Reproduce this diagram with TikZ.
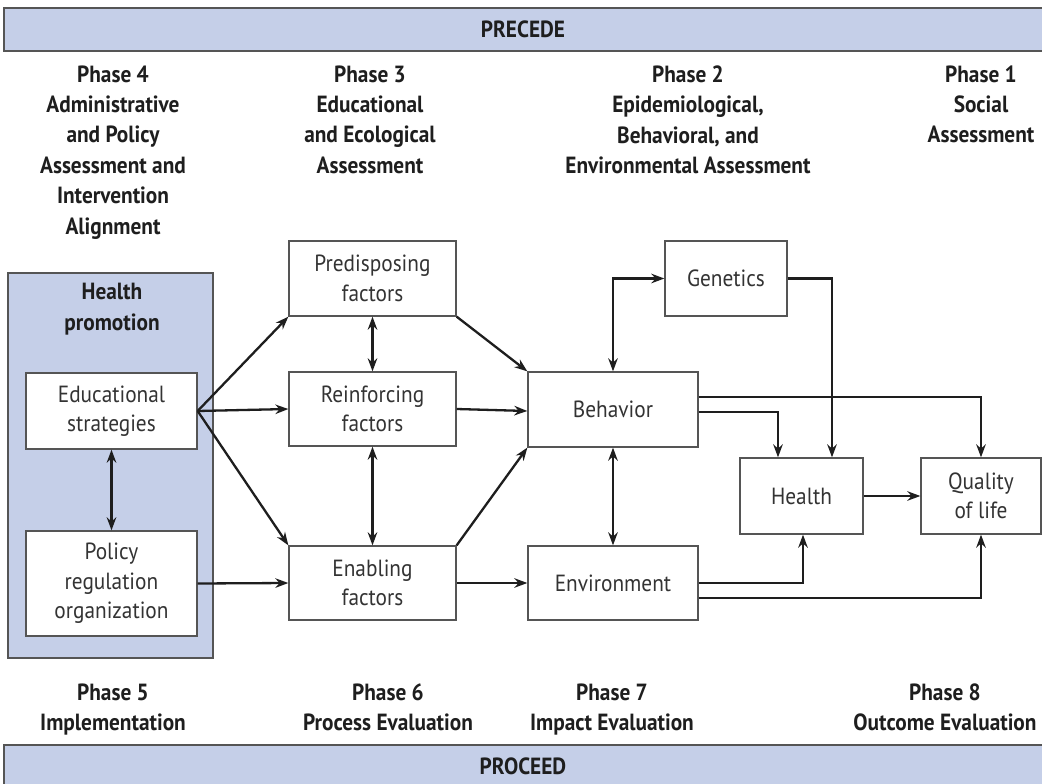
\documentclass[tikz,border=0pt]{standalone}
\usepackage{fontspec}
\setmainfont{PT Sans}[FakeStretch=0.91]
\usetikzlibrary{arrows.meta}

\definecolor{bandblue}{HTML}{C5CFE8}
\definecolor{ink}{HTML}{1E1E1E}
\definecolor{boxline}{HTML}{555555}
\definecolor{boxtext}{HTML}{333333}

\begin{document}
\begin{tikzpicture}[x=1bp,y=-1bp,
  factor/.style={draw=boxline, line width=1.3bp, fill=white, inner sep=0pt,
    align=center, text=boxtext, font=\fontsize{23.5}{29.5}\selectfont},
  head/.style={align=center, text=ink, font=\bfseries\fontsize{23.5}{30.5}\selectfont},
  phase/.style={head, anchor=north},
  band/.style={draw=boxline, line width=1.3bp, fill=bandblue},
  arr/.style={-{Stealth[length=13bp,width=9.5bp]}, line width=2.3bp, draw=ink},
  darr/.style={{Stealth[length=13bp,width=9.5bp]}-{Stealth[length=13bp,width=9.5bp]}, line width=2.3bp, draw=ink}]

\useasboundingbox (0,0) rectangle (1042,784);
\fill[white] (0,0) rectangle (1042,784);

% PRECEDE / PROCEED bands
\draw[band] (4,8) rectangle (1050,51);
\node[head] (precede) at (523,29.5) {PRECEDE};
\draw[band] (4,745) rectangle (1050,795);
\node[head] (proceed) at (523,766) {PROCEED};

% phase headings (PRECEDE side)
\node[phase] (ph4) at (113,62) {Phase 4\\Administrative\\and Policy\\Assessment and\\Intervention\\Alignment};
\node[phase] (ph3) at (370,62) {Phase 3\\Educational\\and Ecological\\Assessment};
\node[phase] (ph2) at (688,62) {Phase 2\\Epidemiological,\\Behavioral, and\\Environmental Assessment};
\node[phase] (ph1) at (981,62) {Phase 1\\Social\\Assessment};

% phase headings (PROCEED side)
\node[phase] (ph5) at (113,680) {Phase 5\\Implementation};
\node[phase] (ph6) at (388,680) {Phase 6\\Process Evaluation};
\node[phase] (ph7) at (612,680) {Phase 7\\Impact Evaluation};
\node[phase] (ph8) at (945,680) {Phase 8\\Outcome Evaluation};

% health promotion panel
\draw[band] (8,273) rectangle (213,658);
\node[phase] (hp) at (112,280) {Health\\promotion};
\node[factor, minimum width=171bp, minimum height=76bp] (edu) at (111.5,411) {Educational\\strategies};
\node[factor, minimum width=171bp, minimum height=105bp] (pol) at (111.5,583.5) {Policy\\regulation\\organization};

% factors
\node[factor, minimum width=167bp, minimum height=75bp] (pred) at (372.5,278.5) {Predisposing\\factors};
\node[factor, minimum width=167bp, minimum height=74bp] (reinf) at (372.5,409) {Reinforcing\\factors};
\node[factor, minimum width=167bp, minimum height=74bp] (enab) at (372.5,583) {Enabling\\factors};

\node[factor, minimum width=170bp, minimum height=75bp] (beh) at (613,409.5) {Behavior};
\node[factor, minimum width=170bp, minimum height=74bp] (env) at (613,583) {Environment};
\node[factor, minimum width=122bp, minimum height=75bp] (gen) at (726,278.5) {Genetics};
\node[factor, minimum width=123bp, minimum height=76bp] (health) at (801.5,496) {Health};
\node[factor, minimum width=120bp, minimum height=76bp] (qol) at (981,496) {Quality\\of life};

% connectors
\draw[darr] (edu.south) -- (pol.north);
\draw[arr] (edu.east) -- (pred.south west);
\draw[arr] (edu.east) -- (reinf.west);
\draw[arr] (edu.east) -- (enab.north west);
\draw[arr] (pol.east) -- (enab.west);

\draw[darr] (pred.south) -- (reinf.north);
\draw[darr] (reinf.south) -- (enab.north);

\draw[arr] (pred.south east) -- (beh.north west);
\draw[arr] (reinf.east) -- ([yshift=-1.5bp]beh.west);
\draw[arr] (enab.north east) -- (beh.south west);
\draw[arr] (enab.east) -- (env.west);

\draw[darr] (beh.south) -- (env.north);
\draw[darr] (beh.north) |- (gen.west);

\draw[arr] ([yshift=12.5bp]beh.east) -| (qol.north);
\draw[arr] ([yshift=-2.5bp]beh.east) -| ([xshift=-23.5bp]health.north);
\draw[arr] (gen.east) -| ([xshift=30.5bp]health.north);
\draw[arr] (health.east) -- (qol.west);
\draw[arr] (env.east) -| ([xshift=1.5bp]health.south);
\draw[arr] ([yshift=-15bp]env.east) -| (qol.south);
\end{tikzpicture}
\end{document}
